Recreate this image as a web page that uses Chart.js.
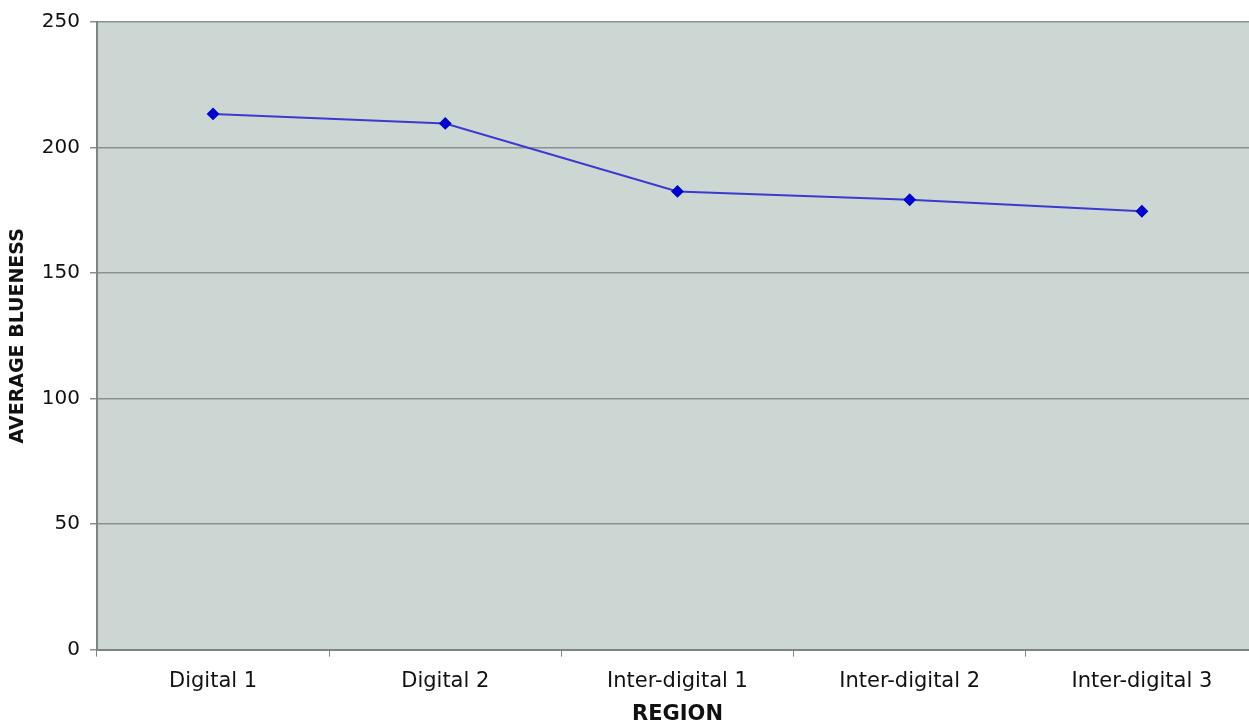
<!DOCTYPE html>
<html>
<head>
  <meta charset="UTF-8">
  <title>Average Blueness by Region</title>
  <script src="https://cdn.jsdelivr.net/npm/chart.js"></script>
  <style>
    body { margin: 0; background: #fff; overflow: hidden; }
    .wrap { width: 1265px; height: 727px; }
  </style>
</head>
<body>
  <div class="wrap"><canvas id="chart"></canvas></div>
  <script>
    const regions = ["Digital 1", "Digital 2", "Inter-digital 1", "Inter-digital 2", "Inter-digital 3"];
    const blueness = [213.4, 209.6, 182.5, 179.2, 174.6];
    const yTicks = [0, 50, 100, 150, 200, 250];

    // grey plot background like the old spreadsheet chart
    const plotBg = {
      id: "plotBg",
      beforeDraw(chart) {
        const a = chart.chartArea, ctx = chart.ctx;
        ctx.save();
        ctx.fillStyle = "#ccd6d3";
        ctx.fillRect(a.left, a.top, a.right - a.left, a.bottom - a.top);
        ctx.restore();
      }
    };

    new Chart(document.getElementById("chart").getContext("2d"), {
      type: "line",
      data: {
        labels: regions,
        datasets: [{
          data: blueness,
          borderColor: "#3a3ad0",
          borderWidth: 2,
          pointStyle: "rectRot",
          pointRadius: 5,
          pointBackgroundColor: "#0000cc",
          pointBorderColor: "#0000cc",
          tension: 0
        }]
      },
      options: {
        responsive: true,
        maintainAspectRatio: false,
        animation: false,
        layout: { padding: { top: 5, left: 7, right: 0, bottom: 0 } },
        plugins: { legend: { display: false }, tooltip: { enabled: false } },
        scales: {
          x: {
            offset: true,
            grid: { offset: true, drawOnChartArea: false, drawTicks: true, tickLength: 7, color: "#7d8481", lineWidth: 1 },
            border: { color: "#7d8481", width: 2 },
            ticks: { color: "#111", font: { family: "DejaVu Sans", size: 21 }, padding: 12 },
            title: { display: true, text: "REGION", color: "#111", font: { family: "DejaVu Sans", size: 21, weight: "bold" }, padding: { top: -4, bottom: 0 } }
          },
          y: {
            min: 0,
            max: 250,
            afterBuildTicks(scale) { scale.ticks = yTicks.map(v => ({ value: v })); },
            grid: { color: "#8a918e", lineWidth: 1.5, tickLength: 7 },
            border: { color: "#7d8481", width: 2 },
            ticks: { color: "#111", font: { family: "DejaVu Sans", size: 20 }, padding: 10 },
            title: { display: true, text: "AVERAGE BLUENESS", color: "#111", font: { family: "DejaVu Sans", size: 19, weight: "bold" }, padding: { top: 0, bottom: 2 } }
          }
        }
      },
      plugins: [plotBg]
    });
  </script>
</body>
</html>
